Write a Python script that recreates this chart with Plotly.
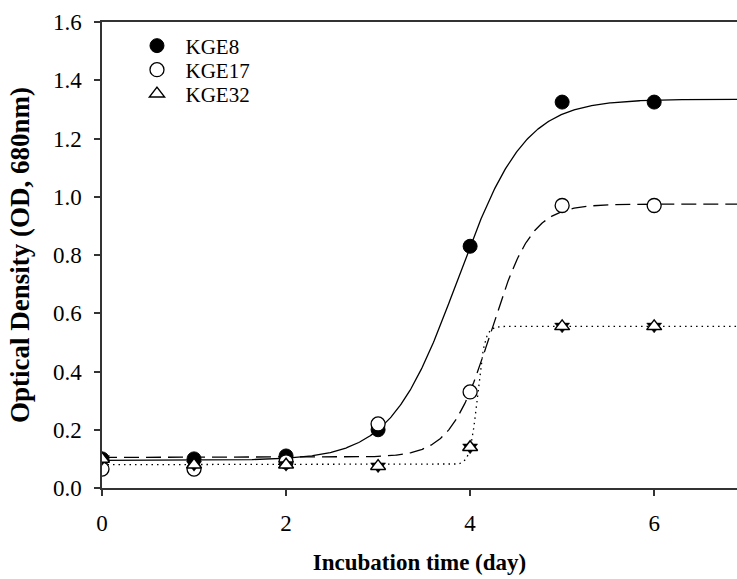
import numpy as np
import plotly.graph_objects as go

days = [0, 1, 2, 3, 4, 5, 6]
kge8 = [0.100, 0.100, 0.110, 0.200, 0.830, 1.325, 1.325]
kge17 = [0.065, 0.065, 0.090, 0.220, 0.330, 0.970, 0.970]
kge32 = [0.100, 0.080, 0.080, 0.075, 0.140, 0.555, 0.555]

# four-parameter sigmoid fit parameters: y0, a, x0, b
fit8 = [0.095, 1.240, 3.864, 0.363]
fit17 = [0.105, 0.870, 4.230, 0.220]
fit32 = [0.080, 0.475, 4.080, 0.040]

def sigmoid(x, p):
    y0, a, x0, b = p
    return y0 + a / (1 + np.exp(-(x - x0) / b))

xf = np.linspace(0, 7, 701)
font = "Liberation Serif, Times New Roman, serif"

fig = go.Figure()
fig.add_trace(go.Scatter(x=xf, y=sigmoid(xf, fit8), mode="lines",
                         line=dict(color="black", width=1.3), showlegend=False))
fig.add_trace(go.Scatter(x=xf, y=sigmoid(xf, fit17), mode="lines",
                         line=dict(color="black", width=1.3, dash="15px,7px"), showlegend=False))
fig.add_trace(go.Scatter(x=xf, y=sigmoid(xf, fit32), mode="lines",
                         line=dict(color="black", width=1.3, dash="1.5px,4px"), showlegend=False))

fig.add_trace(go.Scatter(x=days, y=kge8, mode="markers", name="KGE8", legend="legend",
                         marker=dict(symbol="circle", size=14, color="black",
                                     line=dict(color="black", width=1))))
fig.add_trace(go.Scatter(x=days, y=kge17, mode="markers", name="KGE17", legend="legend2",
                         marker=dict(symbol="circle", size=14, color="white",
                                     line=dict(color="black", width=1.3))))
fig.add_trace(go.Scatter(x=days, y=kge32, mode="markers", showlegend=False, hoverinfo="skip",
                         marker=dict(symbol="triangle-down", size=13, color="black",
                                     line=dict(color="black", width=0.5))))
fig.add_trace(go.Scatter(x=days, y=kge32, mode="markers", name="KGE32", legend="legend3",
                         marker=dict(symbol="triangle-up", size=13, color="white",
                                     line=dict(color="black", width=1.5))))

leg = dict(xanchor="left", yanchor="middle", bgcolor="rgba(0,0,0,0)",
           font=dict(size=21, family=font), itemsizing="trace", itemwidth=47,
           borderwidth=0)
fig.update_layout(
    width=737, height=579,
    margin=dict(l=102, r=0, t=22, b=91),
    plot_bgcolor="white", paper_bgcolor="white",
    font=dict(family=font, size=23, color="black"),
    showlegend=True,
    legend=dict(x=0.0417, y=0.9485, **leg),
    legend2=dict(x=0.0417, y=0.897, **leg),
    legend3=dict(x=0.0417, y=0.8455, **leg),
    xaxis=dict(range=[0, 6.9], tickvals=[0, 2, 4, 6], showgrid=False, zeroline=False,
               showline=True, linecolor="#333", linewidth=1.5, mirror=True,
               ticks="outside", ticklen=6, tickcolor="#333", tickwidth=1.5,
               ticklabelstandoff=8,
               tickfont=dict(size=23, family=font),
               title=dict(text="<b>Incubation time (day)</b>", font=dict(size=23, family=font), standoff=19)),
    yaxis=dict(range=[0, 1.6], tickvals=[0, 0.2, 0.4, 0.6, 0.8, 1.0, 1.2, 1.4, 1.6],
               tickformat=".1f", showgrid=False, zeroline=False,
               showline=True, linecolor="#333", linewidth=1.5,
               ticks="outside", ticklen=6, tickcolor="#333", tickwidth=1.5,
               ticklabelstandoff=8,
               tickfont=dict(size=23, family=font),
               title=dict(text="<b>Optical Density (OD, 680nm)</b>", font=dict(size=27, family=font), standoff=15)),
)

fig.write_html("out.html")
